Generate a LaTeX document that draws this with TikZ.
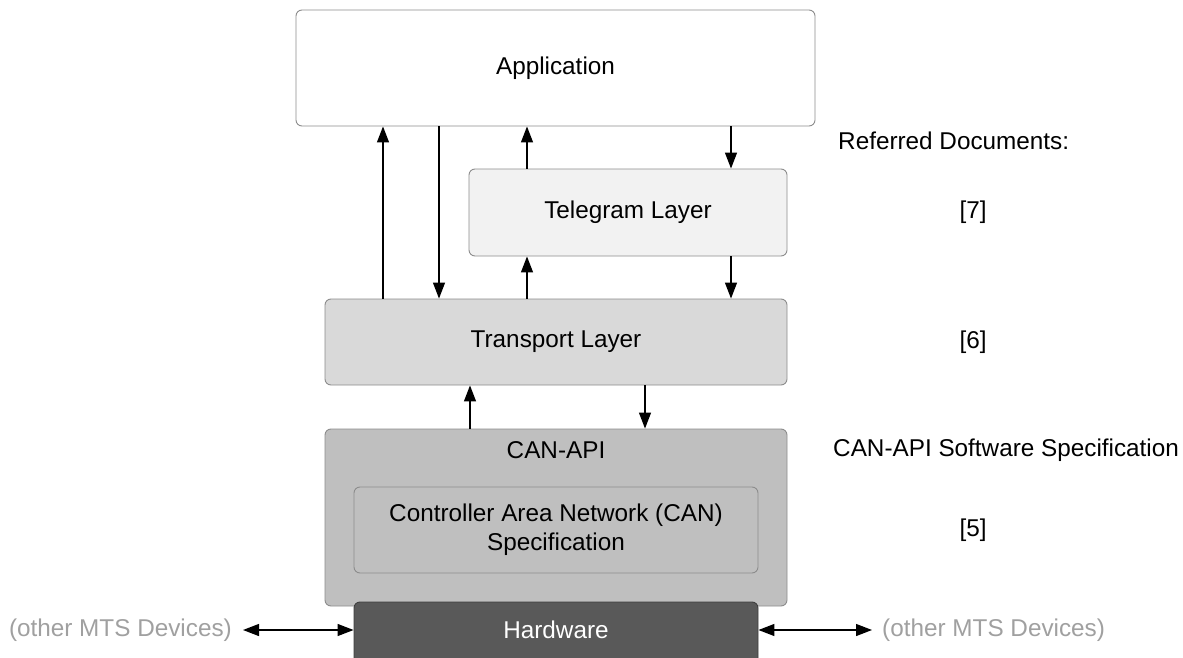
\documentclass[tikz,border=0pt]{standalone}
\usepackage{fontspec}
\setmainfont{Liberation Sans}
\usetikzlibrary{arrows.meta}
\definecolor{boxline}{HTML}{8C8C8C}
\definecolor{telefill}{HTML}{F2F2F2}
\definecolor{transfill}{HTML}{D9D9D9}
\definecolor{apifill}{HTML}{BFBFBF}
\definecolor{hwfill}{HTML}{595959}
\definecolor{hwline}{HTML}{3F3F3F}
\definecolor{devtext}{HTML}{A0A0A0}
\tikzset{
  layer/.style={draw=boxline, line width=0.9pt, rounded corners=6pt, inner sep=0pt,
                font=\fontsize{24.3}{29}\selectfont, align=center},
  txt/.style={inner sep=0pt, font=\fontsize{24.3}{29}\selectfont},
  flow/.style={line width=1.3pt, -{Triangle[length=16pt,width=12pt]}},
  both/.style={line width=1.3pt, {Triangle[length=16pt,width=12pt]}-{Triangle[length=16pt,width=12pt]}},
}
\begin{document}
\begin{tikzpicture}[x=1pt,y=-1pt]
\useasboundingbox (0,0) rectangle (1183,658);
% protocol stack
\node[layer, fill=white, minimum width=519pt, minimum height=116pt] (app) at (555.5,68) {Application};
\node[layer, fill=telefill, minimum width=318pt, minimum height=87pt] (tele) at (628,212.5) {Telegram Layer};
\node[layer, fill=transfill, minimum width=462pt, minimum height=86pt] (trans) at (556,342) {Transport Layer};
\node[layer, fill=apifill, minimum width=462pt, minimum height=177pt] (api) at (556,517.5) {};
\node[txt] (apitxt) at (556,450) {CAN-API};
\node[layer, fill=apifill, minimum width=404pt, minimum height=86pt] (can) at (556,530) {Controller Area Network (CAN)\\Specification};
\node[layer, draw=hwline, fill=hwfill, minimum width=404pt, minimum height=70pt] (hw) at (556,637) {};
\node[txt, text=white] (hwtxt) at (556,630) {Hardware};
% data flow between layers
\draw[flow] (trans.north -| 383,0) -- (app.south -| 383,0);
\draw[flow] (app.south -| 439,0) -- (trans.north -| 439,0);
\draw[flow] (tele.north -| 527,0) -- (app.south -| 527,0);
\draw[flow] (app.south -| 731,0) -- (tele.north -| 731,0);
\draw[flow] (trans.north -| 527,0) -- (tele.south -| 527,0);
\draw[flow] (tele.south -| 731,0) -- (trans.north -| 731,0);
\draw[flow] (api.north -| 470,0) -- (trans.south -| 470,0);
\draw[flow] (trans.south -| 645,0) -- (api.north -| 645,0);
% connections to other devices
\node[txt, text=devtext, anchor=east] (devl) at (232,630) {(other MTS Devices)};
\node[txt, text=devtext, anchor=west] (devr) at (882,630) {(other MTS Devices)};
\draw[both] ([xshift=11pt]devl.east) -- (hw.west |- devl.east);
\draw[both] (hw.east |- devr.west) -- ([xshift=-10pt]devr.west);
% referenced documents
\node[txt, anchor=west] (refhead) at (838,141) {Referred Documents:};
\node[txt] (ref7) at (973,212) {[7]};
\node[txt] (ref6) at (973,342) {[6]};
\node[txt, anchor=west] (refapi) at (833,450) {CAN-API Software Specification};
\node[txt] (ref5) at (973,530) {[5]};
\end{tikzpicture}
\end{document}
